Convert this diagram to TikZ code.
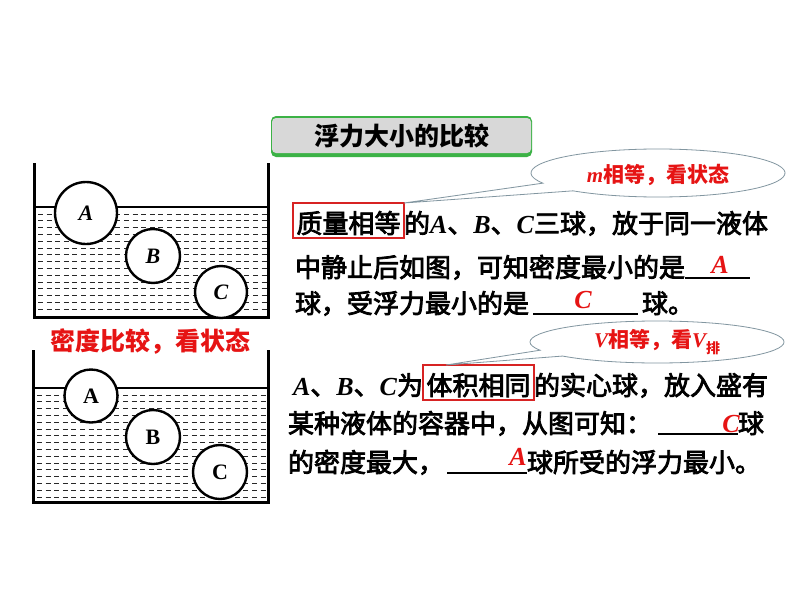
\documentclass[tikz,border=0pt]{standalone}
\usepackage{fontspec}
\setmainfont{Liberation Serif}
\newfontfamily\cjk{Noto Sans CJK SC}
\newfontfamily\cjkbody{Noto Sans CJK SC}[FakeBold=3]
\usetikzlibrary{calc}
\definecolor{ansred}{RGB}{230,20,20}
\definecolor{boxred}{RGB}{215,35,35}
\definecolor{calloutline}{RGB}{130,150,160}
\definecolor{titlegray}{RGB}{216,216,216}
\definecolor{titlegreen}{RGB}{60,178,70}
\definecolor{hatchgray}{RGB}{40,40,40}
\newcommand\lat[1]{{\rmfamily\bfseries\itshape #1}}
\newcommand\blank[1]{\rule[-1.5pt]{#1}{1.1pt}}
\begin{document}
\begin{tikzpicture}[x=1pt,y=-1pt,
  wall/.style={line width=3pt, line join=miter},
  surface/.style={line width=2.5pt},
  hatch/.style={draw=hatchgray, line width=0.9pt, dash pattern=on 5pt off 3.6pt},
  ball/.style={circle, draw, line width=2.4pt, fill=white, inner sep=0pt},
  ballit/.style={ball, font=\rmfamily\bfseries\itshape\fontsize{22}{24}\selectfont},
  ballup/.style={ball, font=\rmfamily\bfseries\fontsize{22}{24}\selectfont},
  body/.style={font=\cjkbody\fontsize{26}{30}\selectfont, inner sep=0pt, outer sep=0pt, anchor=base west},
  redbox/.style={body, draw=boxred, line width=1.8pt, inner xsep=3.5pt, inner ysep=2pt, text height=28pt, text depth=3pt},
  ans/.style={font=\rmfamily\bfseries\itshape\fontsize{26}{30}\selectfont, text=ansred, inner sep=0pt},
  callout/.style={draw=calloutline, line width=0.8pt, fill=white},
  callouttext/.style={font=\cjk\bfseries\fontsize{21}{25}\selectfont, text=ansred, inner sep=0pt},
  redlabel/.style={font=\cjk\bfseries\fontsize{25}{30}\selectfont, text=ansred, inner sep=0pt},
  titletext/.style={font=\cjk\bfseries\fontsize{25}{30}\selectfont, inner sep=0pt}]
\useasboundingbox (0,0) rectangle (800,600);
\fill[white] (0,0) rectangle (800,600);

% ---------- title ----------
\fill[titlegreen, rounded corners=5pt] (271,116) rectangle (532,157);
\fill[titlegray, rounded corners=4pt] (272,118) rectangle (531,153);
\node[titletext] (title) at (402,136) {浮力大小的比较};

% ---------- tank 1 ----------
\begin{scope}
  \clip (34,208) rectangle (268,317);
  \foreach \i in {0,...,15} {\draw[hatch] (38,{214+\i*6.8}) -- (268,{214+\i*6.8});}
\end{scope}
\draw[surface] (34,207) -- (268,207);
\draw[wall] (34,163) -- (34,317) -- (268,317) -- (268,163);
\node[ballit, minimum size=62pt] (a1) at (86,213) {A};
\node[ballit, minimum size=54pt] (b1) at (153,256) {B};
\node[ballit, minimum size=52pt] (c1) at (221,292) {C};

\node[redlabel] (lab) at (150,342) {密度比较，看状态};

% ---------- tank 2 ----------
\begin{scope}
  \clip (33,389) rectangle (268,502);
  \foreach \i in {0,...,16} {\draw[hatch] (37,{395+\i*6.8}) -- (268,{395+\i*6.8});}
\end{scope}
\draw[surface] (33,388) -- (268,388);
\draw[wall] (33,350) -- (33,502) -- (268,502) -- (268,350);
\node[ballup, minimum size=53pt] (a2) at (91,396) {A};
\node[ballup, minimum size=54pt] (b2) at (153,437) {B};
\node[ballup, minimum size=54pt] (c2) at (220,472) {C};

% ---------- paragraph 1 ----------
\node[redbox] (q1box) at (293,233) {质量相等};
\node[body] (q1l1) at (q1box.base east) {的\lat{A}、\lat{B}、\lat{C}三球，放于同一液体};
\node[body] (q1l2) at (295,277) {中静止后如图，可知密度最小的是\blank{65pt}};
\node[body] (q1l3) at (295,313) {球，受浮力最小的是\hspace{4pt}\blank{105pt}\hspace{4pt}球。};
\node[ans] (q1a1) at (720,265) {A};
\node[ans] (q1a2) at (583,300) {C};

% ---------- callout 1 ----------
\coordinate (tip1) at (q1box.north east);
\draw[callout] (tip1) -- ($(658,173)+(205:127pt and 24pt)$)
  arc[start angle=205, end angle=-132, x radius=127pt, y radius=24pt] -- cycle;
\node[callouttext] (co1) at (658,175) {\lat{m}相等，看状态};

% ---------- paragraph 2 ----------
\node[body] (q2l1a) at (293,395) {\lat{A}、\lat{B}、\lat{C}为};
\node[redbox] (q2box) at (q2l1a.base east) {体积相同};
\node[body] (q2l1b) at (q2box.base east) {的实心球，放入盛有};
\node[body] (q2l2) at (288,433) {某种液体的容器中，从图可知：\hspace{6pt}\blank{80pt}球};
\node[body] (q2l3) at (288,472) {的密度最大，\hspace{3pt}\blank{80pt}球所受的浮力最小。};
\node[ans] (q2a1) at (731,424) {C};
\node[ans] (q2a2) at (518,457) {A};

% ---------- callout 2 ----------
\coordinate (tip2) at ($(q2box.north west)+(23pt,0)$);
\draw[callout] (tip2) -- ($(657,342)+(203:127pt and 21pt)$)
  arc[start angle=203, end angle=-138, x radius=127pt, y radius=21pt] -- cycle;
\node[callouttext] (co2) at (657,342) {\lat{V}相等，看\lat{V}\raisebox{-6pt}{\fontsize{14}{16}\selectfont 排}};
\end{tikzpicture}
\end{document}
